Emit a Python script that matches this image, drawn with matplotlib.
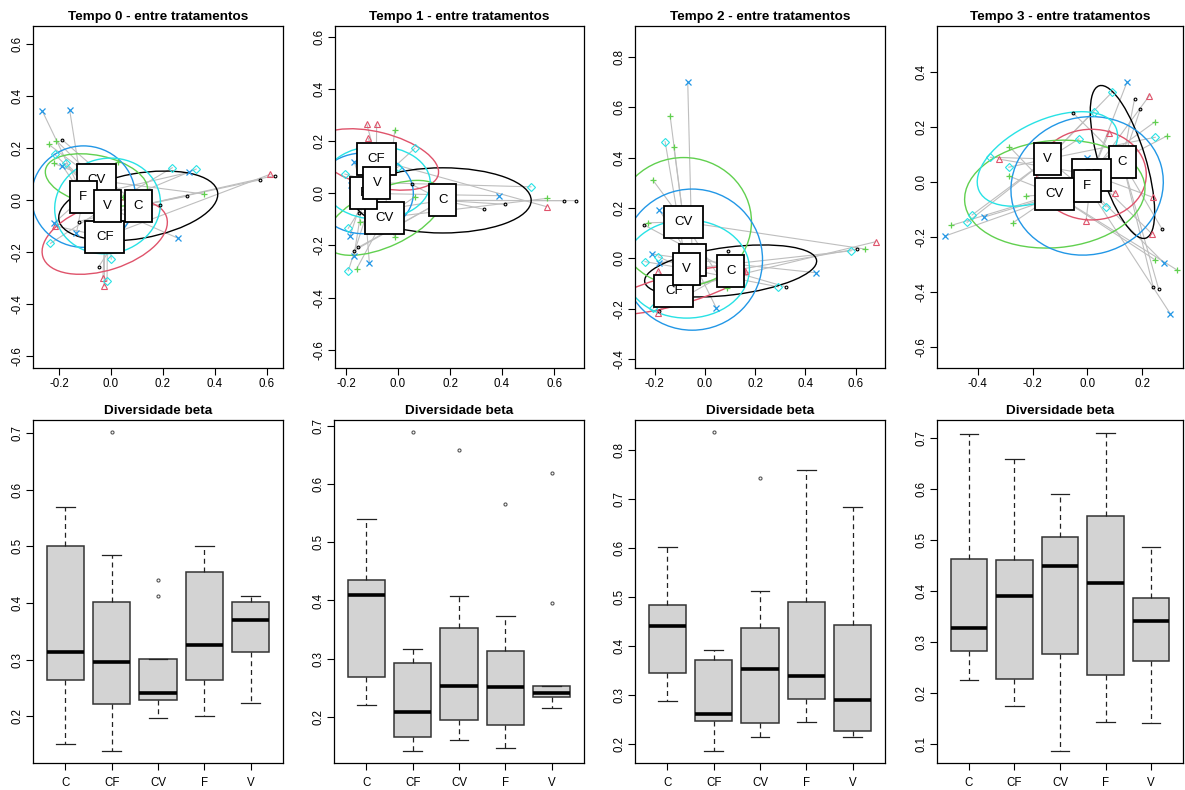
import numpy as np
import matplotlib
matplotlib.use('Agg')
import matplotlib.pyplot as plt
from matplotlib.patches import Ellipse, Rectangle
from matplotlib.transforms import ScaledTranslation

plt.rcParams['font.family'] = ['Liberation Sans', 'DejaVu Sans']
plt.rcParams['axes.unicode_minus'] = False

# grupos e cores (paleta padrao do R 4)
grupos = ['C', 'CF', 'CV', 'F', 'V']
cores = ['#000000', '#DF536B', '#61D04F', '#2297E6', '#28E2E5']
marcadores = ['o', '^', '+', 'x', 'D']

# ---- Tempo 0 ----
t0_centroides = [(0.105, -0.023), (-0.024, -0.142), (-0.056, 0.076), (-0.106, 0.013), (-0.013, -0.023)]
t0_elipses = [(0.62, 0.25, 10), (0.50, 0.255, 18), (0.40, 0.19, -12), (0.40, 0.39, 0), (0.41, 0.365, 15)]
t0_pontos = {
    'C': [(-0.187, 0.231), (0.572, 0.077), (0.63, 0.094), (0.294, 0.015), (0.187, -0.019), (-0.124, -0.083), (-0.047, -0.256)],
    'CF': [(0.613, 0.099), (-0.217, -0.099), (-0.031, -0.301), (-0.026, -0.33)],
    'CV': [(-0.24, 0.214), (-0.21, 0.228), (-0.22, 0.141), (0.027, 0.147), (0.357, 0.023), (0.046, 0.013)],
    'F': [(-0.264, 0.342), (-0.159, 0.346), (-0.187, 0.132), (-0.22, -0.09), (-0.133, -0.128), (0.258, -0.147), (0.299, 0.106)],
    'V': [(-0.217, 0.176), (-0.172, 0.141), (0.236, 0.124), (0.328, 0.119), (-0.233, -0.167), (0.001, -0.227), (-0.015, -0.312)],
}

# ---- Tempo 1 ----
t1_centroides = [(0.172, -0.027), (-0.083, 0.130), (-0.053, -0.094), (-0.131, 0.0), (-0.081, 0.041)]
t1_elipses = [(0.68, 0.25, 0), (0.49, 0.21, -14), (0.49, 0.22, 25), (0.38, 0.31, 0), (0.41, 0.28, 0)]
t1_pontos = {
    'C': [(0.053, 0.034), (0.33, -0.061), (0.411, -0.042), (0.639, -0.028), (0.683, -0.028), (-0.152, -0.207), (-0.169, -0.22), (-0.15, -0.077)],
    'CF': [(-0.12, 0.266), (-0.082, 0.266), (-0.114, 0.211), (0.571, -0.051)],
    'CV': [(-0.012, 0.243), (0.065, -0.013), (-0.146, -0.111), (-0.012, -0.166), (-0.159, -0.29), (0.574, -0.019)],
    'F': [(-0.168, 0.121), (-0.182, 0.032), (-0.184, -0.163), (-0.169, -0.239), (-0.11, -0.266), (0.389, -0.009)],
    'V': [(-0.204, 0.074), (0.065, 0.173), (0.001, 0.102), (-0.191, -0.134), (-0.191, -0.297), (0.511, 0.025)],
}

# ---- Tempo 2 ----
t2_centroides = [(0.102, -0.05), (-0.124, -0.128), (-0.085, 0.145), (-0.051, -0.005), (-0.073, -0.042)]
t2_elipses = [(0.69, 0.19, 7), (0.59, 0.12, 15), (0.54, 0.51, 0), (0.56, 0.56, 0), (0.50, 0.39, 0)]
t2_pontos = {
    'C': [(-0.242, 0.132), (0.09, 0.03), (0.321, -0.113), (0.604, 0.037), (-0.185, -0.21)],
    'CF': [(0.68, 0.066), (-0.188, -0.049), (-0.188, -0.218), (0.159, -0.05)],
    'CV': [(-0.139, 0.565), (-0.124, 0.44), (-0.208, 0.311), (-0.228, 0.141), (0.637, 0.037), (0.086, -0.119)],
    'F': [(-0.069, 0.701), (-0.183, 0.192), (-0.21, 0.017), (-0.182, -0.017), (0.044, -0.195), (0.442, -0.057)],
    'V': [(-0.159, 0.463), (-0.239, -0.013), (-0.186, 0.006), (0.582, 0.03), (0.292, -0.113), (-0.206, -0.198)],
}

# ---- Tempo 3 ----
t3_centroides = [(0.128, 0.074), (0.015, 0.028), (-0.119, -0.043), (-0.001, -0.013), (-0.146, 0.085)]
t3_elipses = [(0.58, 0.17, -73), (0.40, 0.33, 0), (0.66, 0.39, 5), (0.56, 0.50, 15), (0.55, 0.28, 25)]
t3_pontos = {
    'C': [(0.172, 0.303), (0.193, 0.266), (-0.053, 0.253), (0.273, -0.171), (0.24, -0.38), (0.26, -0.388)],
    'CF': [(0.226, 0.315), (0.078, 0.178), (-0.321, 0.084), (0.102, -0.04), (0.24, -0.055), (-0.005, -0.14), (0.236, -0.188)],
    'CV': [(-0.285, 0.13), (-0.287, 0.023), (-0.223, -0.05), (-0.271, -0.147), (-0.497, -0.157), (0.248, 0.221), (0.291, 0.169), (0.248, -0.283), (0.327, -0.319)],
    'F': [(0.145, 0.366), (-0.001, 0.087), (-0.378, -0.127), (-0.518, -0.195), (0.279, -0.293), (0.303, -0.479)],
    'V': [(0.09, 0.328), (0.023, 0.257), (-0.031, 0.158), (-0.354, 0.091), (-0.287, 0.055), (-0.421, -0.119), (-0.439, -0.146), (0.248, 0.164), (0.068, -0.089)],
}

# ---- boxplots: [min, q1, mediana, q3, max] e outliers ----
b0_stats = [[0.150, 0.263, 0.314, 0.501, 0.570], [0.138, 0.221, 0.295, 0.401, 0.485],
            [0.196, 0.229, 0.241, 0.301, 0.301], [0.200, 0.264, 0.325, 0.454, 0.501],
            [0.223, 0.314, 0.369, 0.401, 0.413]]
b0_out = [[], [0.702], [0.441, 0.413], [], []]

b1_stats = [[0.221, 0.269, 0.410, 0.435, 0.540], [0.142, 0.166, 0.209, 0.292, 0.316],
            [0.161, 0.195, 0.254, 0.353, 0.407], [0.147, 0.186, 0.252, 0.314, 0.373],
            [0.216, 0.234, 0.242, 0.254, 0.254]]
b1_out = [[], [0.689], [0.659], [0.566], [0.619, 0.395]]

b2_stats = [[0.288, 0.346, 0.441, 0.485, 0.602], [0.187, 0.247, 0.262, 0.371, 0.393],
            [0.214, 0.243, 0.354, 0.438, 0.512], [0.246, 0.293, 0.340, 0.491, 0.760],
            [0.214, 0.227, 0.291, 0.443, 0.683]]
b2_out = [[], [0.836], [0.743], [], []]

b3_stats = [[0.226, 0.282, 0.328, 0.463, 0.708], [0.175, 0.229, 0.390, 0.461, 0.659],
            [0.087, 0.278, 0.449, 0.507, 0.590], [0.144, 0.235, 0.416, 0.547, 0.711],
            [0.142, 0.264, 0.341, 0.386, 0.487]]
b3_out = [[], [], [], [], []]

W, H = 1185, 790
fig = plt.figure(figsize=(W / 100, H / 100), dpi=100)


def eixo(x0, x1, y0, y1):
    return fig.add_axes([x0 / W, 1 - y1 / H, (x1 - x0) / W, (y1 - y0) / H])


def estilo(ax, xpad=2):
    for s in ax.spines.values():
        s.set_linewidth(0.9)
    ax.tick_params(direction='out', length=5, width=0.8, labelsize=8.3, pad=2)
    ax.tick_params(axis='x', pad=xpad)
    ax.tick_params(axis='y', labelrotation=90)
    plt.setp(ax.get_yticklabels(), va='center')


def rotulo(ax, x, y, texto, z):
    # caixa branca de tamanho fixo (em polegadas) centrada no centroide, estilo ordilabel
    larg = 0.15 + 0.12 * len(texto)
    alt = 0.32
    tr = fig.dpi_scale_trans + ScaledTranslation(x, y, ax.transData)
    ax.add_patch(Rectangle((-larg / 2, -alt / 2), larg, alt, transform=tr,
                           fc='white', ec='black', lw=1.3, zorder=z))
    ax.text(x, y, texto, ha='center', va='center', fontsize=9.5, zorder=z + 0.5)


def ordenacao(ax, pontos, centroides, elipses, titulo, xlim, ylim, xt, yt):
    ax.set_xlim(*xlim)
    ax.set_ylim(*ylim)
    for i, g in enumerate(grupos):
        cx, cy = centroides[i]
        for (px, py) in pontos[g]:
            ax.plot([px, cx], [py, cy], color='#BEBEBE', lw=0.8, zorder=1)
    for i, g in enumerate(grupos):
        w, h, a = elipses[i]
        ax.add_patch(Ellipse(centroides[i], w, h, angle=a, fill=False,
                             ec=cores[i], lw=1.0, zorder=2))
        ax.plot(*centroides[i], 'o', color=cores[i], ms=3, zorder=3)
    for i, g in enumerate(grupos):
        xs = [p[0] for p in pontos[g]]
        ys = [p[1] for p in pontos[g]]
        if marcadores[i] in ('+', 'x'):
            ax.plot(xs, ys, ls='none', marker=marcadores[i], color=cores[i], ms=4.5, mew=0.9, zorder=4)
        elif marcadores[i] == 'o':
            ax.plot(xs, ys, ls='none', marker='o', mfc='none', mec=cores[i], ms=2, mew=0.8, zorder=4)
        else:
            ax.plot(xs, ys, ls='none', marker=marcadores[i], mfc='none', mec=cores[i], ms=4, mew=0.8, zorder=4)
    for i, g in enumerate(grupos):
        rotulo(ax, centroides[i][0], centroides[i][1], g, 10 + i)
    ax.set_xlim(*xlim)
    ax.set_ylim(*ylim)
    ax.set_xticks(xt)
    ax.set_yticks(yt)
    ax.set_xticklabels(['%.1f' % v for v in xt])
    ax.set_yticklabels(['%.1f' % v for v in yt])
    ax.set_title(titulo, fontsize=9.7, fontweight='bold', pad=4)
    estilo(ax)


def caixas(ax, stats, outs, ylim, yt):
    dados = []
    for i, g in enumerate(grupos):
        lo, q1, md, q3, hi = stats[i]
        dados.append(dict(label=g, whislo=lo, q1=q1, med=md, q3=q3, whishi=hi, fliers=outs[i]))
    ax.bxp(dados, positions=range(1, 6), widths=0.8, patch_artist=True,
           boxprops=dict(facecolor='#D3D3D3', edgecolor='#333333', lw=1.1),
           medianprops=dict(color='black', lw=2.6),
           whiskerprops=dict(color='#222222', lw=0.9, ls=(0, (4, 3))),
           capprops=dict(color='#222222', lw=0.9),
           flierprops=dict(marker='o', mfc='none', mec='#555555', ms=2.2, mew=0.8),
           capwidths=0.4)
    ax.set_xlim(0.3, 5.7)
    ax.set_ylim(*ylim)
    ax.set_yticks(yt)
    ax.set_yticklabels(['%.1f' % v for v in yt])
    ax.set_title('Diversidade beta', fontsize=9.7, fontweight='bold', pad=4)
    estilo(ax, xpad=5)


ax1 = eixo(33, 283, 26, 368)
ordenacao(ax1, t0_pontos, t0_centroides, t0_elipses, 'Tempo 0 - entre tratamentos',
          (-0.30, 0.662), (-0.646, 0.669), [-0.2, 0.0, 0.2, 0.4, 0.6], [-0.6, -0.4, -0.2, 0.0, 0.2, 0.4, 0.6])
ax2 = eixo(335, 584, 26, 368)
ordenacao(ax2, t1_pontos, t1_centroides, t1_elipses, 'Tempo 1 - entre tratamentos',
          (-0.242, 0.715), (-0.670, 0.642), [-0.2, 0.0, 0.2, 0.4, 0.6], [-0.6, -0.4, -0.2, 0.0, 0.2, 0.4, 0.6])
ax3 = eixo(635, 885, 26, 368)
ordenacao(ax3, t2_pontos, t2_centroides, t2_elipses, 'Tempo 2 - entre tratamentos',
          (-0.279, 0.717), (-0.435, 0.922), [-0.2, 0.0, 0.2, 0.4, 0.6], [-0.4, -0.2, 0.0, 0.2, 0.4, 0.6, 0.8])
ax4 = eixo(937, 1183, 26, 368)
ordenacao(ax4, t3_pontos, t3_centroides, t3_elipses, 'Tempo 3 - entre tratamentos',
          (-0.549, 0.349), (-0.676, 0.569), [-0.4, -0.2, 0.0, 0.2], [-0.6, -0.4, -0.2, 0.0, 0.2, 0.4])

ax5 = eixo(33, 283, 420, 763)
caixas(ax5, b0_stats, b0_out, (0.117, 0.7235), [0.2, 0.3, 0.4, 0.5, 0.6, 0.7])
ax6 = eixo(334, 584, 420, 763)
caixas(ax6, b1_stats, b1_out, (0.121, 0.7098), [0.2, 0.3, 0.4, 0.5, 0.6, 0.7])
ax7 = eixo(635, 885, 420, 763)
caixas(ax7, b2_stats, b2_out, (0.162, 0.861), [0.2, 0.3, 0.4, 0.5, 0.6, 0.7, 0.8])
ax8 = eixo(937, 1183, 420, 763)
caixas(ax8, b3_stats, b3_out, (0.0633, 0.736), [0.1, 0.2, 0.3, 0.4, 0.5, 0.6, 0.7])

fig.savefig('out.png', dpi=100)
